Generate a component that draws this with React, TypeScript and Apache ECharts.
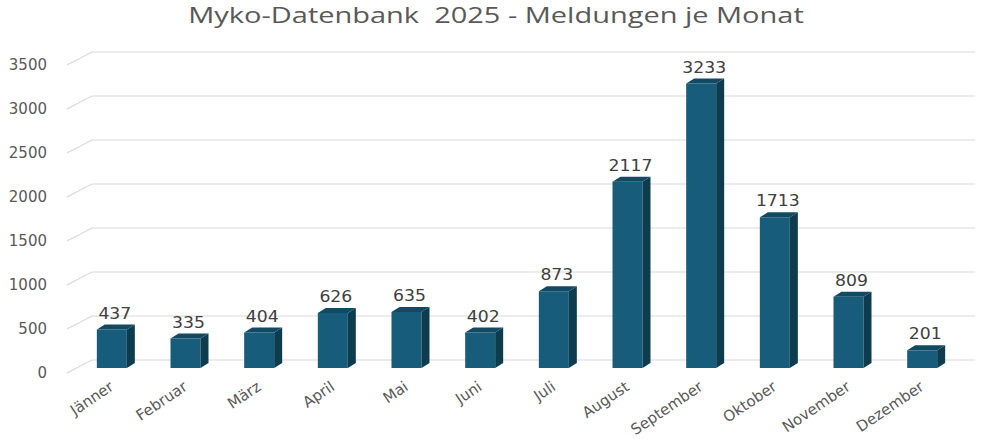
import React, { useEffect, useRef } from "react";
import * as echarts from "echarts";

const months = ["Jänner", "Februar", "März", "April", "Mai", "Juni", "Juli", "August", "September", "Oktober", "November", "Dezember"];
const reports = [437, 335, 404, 626, 635, 402, 873, 2117, 3233, 1713, 809, 201];
const yTicks = [0, 500, 1000, 1500, 2000, 2500, 3000, 3500];
const titleText = "Myko-Datenbank  2025 - Meldungen je Monat";

export default function App() {
  const ref = useRef<HTMLDivElement>(null);
  useEffect(() => {
    document.body.style.margin = "0";
    const chart = echarts.init(ref.current!, null, { renderer: "svg" });
    const DX = 25, DY = 13;
    const option: any = {
      animation: false,
      backgroundColor: "#ffffff",
      graphic: [
        {
          type: "text",
          x: 496,
          y: 15,
          scaleX: 1.38,
          style: {
            text: titleText,
            align: "center",
            verticalAlign: "middle",
            fontFamily: "Open Sans",
            fontSize: 21,
            fill: "#595959",
          },
        },
      ],
      grid: [
        { left: 67, right: 7, top: 65, bottom: 66, outerBoundsMode: "none", containLabel: false },
        { left: 75, right: 23, top: 60, bottom: 71, outerBoundsMode: "none", containLabel: false },
      ],
      xAxis: [
        { gridIndex: 0, type: "value", min: 0, max: 1, show: false },
        {
          gridIndex: 1,
          type: "category",
          data: months,
          axisLine: { show: false },
          axisTick: { show: false },
          axisLabel: {
            rotate: 34,
            margin: 17,
            fontFamily: "DejaVu Sans",
            fontSize: 15,
            color: "#595959",
            interval: 0,
          },
        },
      ],
      yAxis: [
        {
          gridIndex: 0,
          type: "value",
          min: 0,
          max: 3500,
          interval: 500,
          axisLine: { show: false },
          axisTick: { show: false },
          splitLine: { show: false },
          axisLabel: {
            margin: 20,
            fontFamily: "DejaVu Sans",
            fontSize: 15,
            color: "#595959",
            formatter: (v: number) => String(v),
          },
        },
        { gridIndex: 1, type: "value", min: 0, max: 3500, interval: 500, show: false },
      ],
      series: [
        {
          type: "custom",
          xAxisIndex: 0,
          yAxisIndex: 0,
          data: yTicks.map((v) => [0, v]),
          z: 1,
          renderItem: (params: any, api: any) => {
            const p = api.coord([0, api.value(1)]);
            const cs = params.coordSys;
            const x0 = cs.x;
            const xr = cs.x + cs.width;
            return {
              type: "polyline",
              shape: { points: [[x0, p[1]], [x0 + DX, p[1] - DY], [xr, p[1] - DY]] },
              style: { stroke: "#d9d9d9", lineWidth: 1.2, fill: null },
              silent: true,
            };
          },
        },
        {
          type: "custom",
          xAxisIndex: 1,
          yAxisIndex: 1,
          data: reports.map((v, i) => [i, v]),
          z: 5,
          renderItem: (params: any, api: any) => {
            const i = api.value(0);
            const v = api.value(1);
            const top = api.coord([i, v]);
            const bot = api.coord([i, 0]);
            const w = 30, d = 8, h = 5;
            const x1 = top[0] - w / 2;
            const x2 = x1 + w;
            const cx = x1 + w / 2 + 3;
            const ty = top[1] - 16;
            return {
              type: "group",
              children: [
                {
                  type: "rect",
                  shape: { x: x1, y: top[1], width: w, height: bot[1] - top[1] },
                  style: { fill: "#175d7b" },
                },
                {
                  type: "polygon",
                  shape: { points: [[x2, top[1]], [x2 + d, top[1] - h], [x2 + d, bot[1] - h], [x2, bot[1]]] },
                  style: { fill: "#0d3c4f" },
                },
                {
                  type: "polygon",
                  shape: { points: [[x1, top[1]], [x1 + d, top[1] - h], [x2 + d, top[1] - h], [x2, top[1]]] },
                  style: { fill: "#114a62" },
                },
                {
                  type: "text",
                  x: cx,
                  y: ty,
                  scaleX: 1.15,
                  style: {
                    text: String(v),
                    x: 0,
                    y: 0,
                    align: "center",
                    verticalAlign: "middle",
                    fontFamily: "DejaVu Sans",
                    fontSize: 15,
                    fill: "#404040",
                  },
                },
              ],
            };
          },
        },
      ],
    };
    chart.setOption(option);
    return () => chart.dispose();
  }, []);
  return <div ref={ref} style={{ width: 982, height: 439 }} />;
}
